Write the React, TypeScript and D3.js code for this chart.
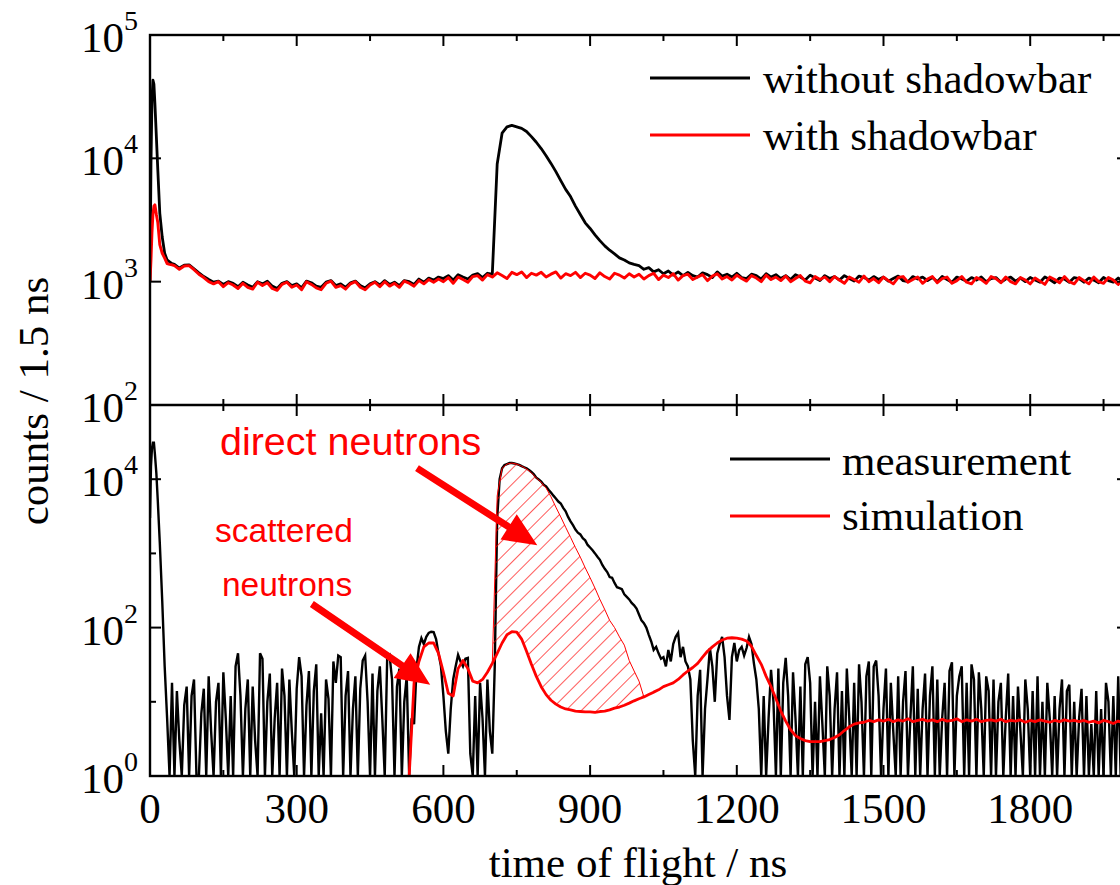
import React from "react";
import * as d3 from "d3";

// ---------- time axis (ns) ----------
const headTimes = [0, 2, 4, 6, 8, 10, 13, 16, 20, 25, 30, 35, 40, 45];
const gridTimes = d3.range(50, 2001, 10);
const tof = headTimes.concat(gridTimes);

const measHeadTimes = [0, 2, 4, 6, 8, 10, 13, 16, 20, 25];
const measTimes = measHeadTimes.concat(d3.range(30, 2001, 5));

// ---------- top panel: counts / 1.5 ns ----------
const withoutShadowbar = [
  1000, 9000, 30000, 43000, 40000, 28000, 15000, 8000, 3600, 2300, 1700, 1500, 1450, 1400,
  1380, 1290, 1360, 1370, 1270, 1180,
  1100, 1040, 990, 1010, 950, 1000, 970, 910, 990,
  940, 900, 1000, 960, 1010, 920, 880, 970, 1000, 930,
  960, 890, 1010, 980, 920, 900, 990, 1020, 930, 960,
  900, 980, 1010, 930, 890, 960, 1000, 940, 1020, 950,
  990, 930, 1020, 1000, 950, 1050, 990, 1070, 1030, 1090,
  1060, 1120, 1030, 1140, 1090, 1050, 1130, 1160, 1080, 1170,
  1150, 9000, 16000, 18000, 18500, 18000, 17500, 16500, 15000, 13500,
  12000, 10500, 9100, 7800, 6600, 5600, 4900, 4100, 3500, 3000,
  2700, 2400, 2150, 1950, 1800, 1680, 1560, 1500, 1420, 1380,
  1350, 1260, 1300, 1200, 1250, 1160, 1220, 1130, 1200, 1120,
  1190, 1120, 1090, 1180, 1140, 1080, 1200, 1110, 1150, 1090,
  1170, 1080, 1060, 1150, 1120, 1050, 1160, 1090, 1140, 1060,
  1120, 1040, 1140, 1090, 1030, 1130, 1070, 1020, 1120, 1060,
  1100, 1030, 1120, 1060, 1010, 1110, 1080, 1030, 1100, 1040,
  1090, 1010, 1060, 1110, 1020, 1000, 1100, 1050, 1090, 1020,
  1080, 1000, 1100, 1040, 990, 1090, 1050, 1010, 1080, 1030,
  1090, 1000, 1060, 1080, 990, 1050, 1090, 1010, 1070, 1000,
  1080, 1030, 990, 1090, 1040, 980, 1070, 1050, 990, 1080,
  1060, 990, 1070, 1030, 980, 1080, 1020, 990, 1070, 1000,
  1050,
];

const withShadowbar = [
  1000, 1500, 2500, 3500, 4100, 4200, 3500, 3000, 2000, 1700, 1550, 1400, 1380, 1370,
  1350, 1260, 1340, 1350, 1250, 1150,
  1080, 1000, 960, 1000, 910, 980, 940, 880, 970,
  900, 870, 990, 930, 980, 880, 850, 950, 990, 900,
  940, 860, 1000, 950, 890, 860, 970, 1010, 900, 930,
  870, 960, 1000, 900, 860, 940, 990, 910, 1000, 920,
  970, 900, 1010, 970, 920, 1020, 960, 1040, 990, 1050,
  1000, 1080, 970, 1090, 1040, 990, 1100, 1120, 1030, 1140,
  1090, 1180, 1120, 1060, 1190, 1140, 1200, 1080, 1170, 1130,
  1190, 1090, 1150, 1200, 1070, 1160, 1120, 1190, 1080, 1170,
  1130, 1060, 1180, 1100, 1050, 1170, 1130, 1070, 1160, 1090,
  1150, 1050, 1120, 1170, 1040, 1130, 1080, 1160, 1030, 1120,
  1150, 1040, 1090, 1140, 1020, 1110, 1160, 1050, 1100, 1030,
  1130, 1060, 1010, 1120, 1070, 1000, 1130, 1040, 1090, 1020,
  1110, 1000, 1060, 1120, 1010, 980, 1100, 1040, 1090, 1000,
  1100, 1030, 970, 1090, 1040, 990, 1110, 1000, 1060, 980,
  1090, 1020, 960, 1080, 1100, 990, 1040, 1090, 970, 1050,
  1100, 980, 1060, 1090, 970, 1020, 1100, 990, 960, 1080,
  1040, 970, 1100, 1060, 980, 1090, 1000, 960, 1080, 1030,
  960, 1070, 1010, 950, 1090, 1040, 980, 1100, 1000, 960,
  1080, 1020, 960, 1090, 1000, 970, 1080, 1030, 950, 1060,
  1000,
];

// ---------- bottom panel ----------
const measurement = [
  3000, 15000, 26000, 31000, 31000, 22000, 12000, 5000, 1400, 230,
  30, 6, 0, 18, 0, 14, 3, 0, 9, 16,
  0, 12, 20, 0, 0, 7, 15, 0, 22, 4,
  0, 10, 18, 0, 25, 6, 0, 12, 0, 30,
  45, 12, 0, 8, 20, 0, 16, 3, 0, 45,
  38, 0, 10, 24, 0, 6, 18, 0, 28, 12,
  0, 20, 4, 0, 15, 40, 22, 0, 9, 26,
  0, 14, 32, 0, 7, 0, 20, 11, 0, 35,
  18, 42, 40, 0, 12, 26, 0, 8, 22, 0,
  15, 36, 42, 10, 0, 24, 0, 14, 30, 6,
  0, 38, 42, 20, 0, 16, 28, 0, 10, 22,
  0, 6, 5, 28, 55, 72, 60, 75, 85, 88,
  87, 70, 45, 30, 12, 4, 2, 8, 20, 30,
  43, 35, 30, 38, 39, 2, 0, 12, 0, 18,
  6, 0, 20, 4, 2, 30, 3000, 10000, 14000, 15500,
  16000, 16500, 16500, 16300, 16000, 15600, 15000, 14500, 14000, 13300,
  12500, 11600, 10500, 9900, 9300, 8400, 8000, 7200, 6600, 6000,
  5500, 5000, 4700, 4100, 3700, 3100, 2700, 2400, 2100, 1900,
  1800, 1600, 1500, 1300, 1200, 1100, 1000, 900, 820, 700,
  620, 560, 480, 470, 400, 350, 340, 330, 280, 260,
  240, 215, 200, 180, 150, 125, 115, 100, 80, 65,
  50, 55, 45, 38, 40, 30, 50, 35, 60, 75,
  85, 40, 55, 35, 30, 20, 3, 0, 12, 27,
  0, 8, 20, 53, 30, 10, 45, 60, 75, 40,
  12, 5.7, 40, 62, 35, 50, 55, 42, 53, 75,
  60, 33, 20, 8, 0, 12, 0, 6, 27, 10,
  0, 28, 0, 18, 39, 12, 0, 25, 6, 0,
  16, 0, 32, 40, 18, 0, 10, 0, 22, 5,
  0, 30, 12, 0, 8, 25, 0, 14, 0, 28,
  6, 0, 18, 0, 32, 10, 0, 22, 35, 0,
  30, 36, 12, 0, 8, 28, 0, 18, 4, 0,
  22, 0, 10, 26, 0, 6, 30, 0, 15, 0,
  8, 24, 0, 12, 30, 0, 20, 0, 6, 18,
  0, 26, 34, 0, 12, 22, 30, 0, 18, 0,
  32, 20, 0, 25, 8, 0, 22, 14, 0, 20,
  0, 10, 18, 0, 6, 24, 0, 12, 0, 16,
  4, 0, 20, 8, 0, 14, 0, 22, 0, 10,
  0, 18, 6, 0, 12, 0, 8, 20, 0, 14,
  17, 0, 10, 0, 6, 15, 0, 12, 0, 5,
  0, 14, 0, 8, 0, 18, 10, 0, 12, 0,
  22, 0, 8, 0, 14,
];

const simTimes = d3.range(530, 2001, 10);
const simulation = [
  0, 18, 35, 55, 62, 62, 45, 25, 13, 12, 28, 36, 28, 19, 18, 20, 25,
  33, 45, 62, 80, 88, 87, 70, 48, 32, 22,
  16, 12.5, 10.5, 9.3, 8.5, 8, 7.8, 7.5, 7.4, 7.3,
  7.3, 7.2, 7.4, 7.5, 7.8, 8.2, 8.5, 9, 9.6, 10.3,
  11, 11.6, 12.5, 13.5, 14.5, 16, 17, 18, 20, 23,
  26, 29, 33, 40, 48, 55, 62, 68, 72, 73,
  72, 70, 66, 56, 42, 32, 22, 16, 11, 7.5,
  5.5, 4.2, 3.5, 3.2, 3.0, 2.9, 2.9, 2.9, 3.0, 3.1,
  3.3, 3.6, 4.1, 4.6, 5.0, 5.2, 5.3, 5.6, 5.4, 5.7,
  5.5, 5.8, 5.4, 5.7, 5.5, 5.9, 5.4, 5.6, 5.8, 5.5,
  5.7, 5.4, 5.8, 5.5, 5.6, 5.9, 5.4, 5.7, 5.5, 5.8,
  5.4, 5.6, 5.7, 5.5, 5.8, 5.4, 5.6, 5.5, 5.7, 5.3,
  5.6, 5.4, 5.7, 5.5, 5.3, 5.6, 5.4, 5.7, 5.5, 5.6,
  5.4, 5.6, 5.3, 5.5, 5.2, 5.6, 5.4, 5.1, 5.5, 5.2,
  5.3,
];

const directTimes = d3.range(700, 1011, 10);
const directTotal = [
  33, 6000, 14000, 16000, 16500, 16000, 15000, 13800, 12200, 10400,
  9100, 7600, 5800, 4200, 3100, 2250, 1650, 1200, 890, 640,
  470, 340, 240, 175, 125, 100, 75, 58, 36, 26,
  19, 11.6,
];

// ---------- axes ----------
const xTicks = d3.range(0, 2001, 150);
const xTickLabels = [0, 300, 600, 900, 1200, 1500, 1800];
const topMajor = [1e3, 1e4];
const topLabels = [2, 3, 4, 5];
const botMajor = [1e2, 1e4];
const botMinor = [1e1, 1e3];
const botLabels = [0, 2, 4];

// annotation anchors in data coords [ns, counts]
const arrowDirect = [[546, 14100], [792, 1290]];
const arrowScattered = [[331, 208], [573, 17]];

const RED = "#f00";
const SERIF = "'Liberation Serif', 'Times New Roman', serif";
const SANS = "'Liberation Sans', Arial, sans-serif";

function arrowPoints(p1: number[], p2: number[], w: number, L: number, Hw: number) {
  const dx = p2[0] - p1[0], dy = p2[1] - p1[1];
  const len = Math.hypot(dx, dy);
  const ux = dx / len, uy = dy / len;
  const nx = -uy, ny = ux;
  const bx = p2[0] - ux * L, by = p2[1] - uy * L;
  const pts = [
    [p1[0] + nx * w / 2, p1[1] + ny * w / 2],
    [bx + nx * w / 2, by + ny * w / 2],
    [bx + nx * Hw / 2, by + ny * Hw / 2],
    [p2[0], p2[1]],
    [bx - nx * Hw / 2, by - ny * Hw / 2],
    [bx - nx * w / 2, by - ny * w / 2],
    [p1[0] - nx * w / 2, p1[1] - ny * w / 2],
  ];
  return pts.map((p) => p.join(",")).join(" ");
}

export default function App() {
  const L = 150, R = 1128, T = 35, M = 405, B = 776;
  const x = d3.scaleLinear().domain([0, 2000]).range([L, R]);
  const yTop = d3.scaleLog().domain([100, 1e5]).range([M, T]).clamp(true);
  const yBot = d3.scaleLog().domain([1, 1e5]).range([B, M]).clamp(true);

  const topLine = d3
    .line<[number, number]>()
    .x((d) => x(d[0]))
    .y((d) => yTop(d[1]));
  const botLine = d3
    .line<[number, number]>()
    .x((d) => x(d[0]))
    .y((d) => yBot(Math.max(d[1], 1)));

  const pairs = (ts: number[], vs: number[]) => ts.map((t, i) => [t, vs[i]] as [number, number]);

  const simAt = (t: number) => simulation[Math.round((t - 530) / 10)];
  const hatchArea = d3
    .area<number>()
    .x((t) => x(t))
    .y0((t) => yBot(simAt(t)))
    .y1((_, i) => yBot(directTotal[i]));

  const fs = 43;
  const expFs = 28;

  const tickLen = (v: number) => (v % 300 === 0 ? 11 : 6);

  const toPx = (p: number[]) => [x(p[0]), yBot(p[1])];

  return (
    <svg
      width={1120}
      height={885}
      style={{ position: "absolute", left: 0, top: 0, background: "#fff" }}
      fontFamily={SERIF}
    >
      <defs>
        <clipPath id="clipTop">
          <rect x={L} y={T} width={R - L} height={M - T} />
        </clipPath>
        <clipPath id="clipBot">
          <rect x={L} y={M} width={R - L} height={B - M} />
        </clipPath>
        <pattern
          id="hatch"
          patternUnits="userSpaceOnUse"
          width={11}
          height={11}
          patternTransform="rotate(45)"
        >
          <line x1={0} y1={0} x2={0} y2={11} stroke={RED} strokeWidth={1.3} />
        </pattern>
      </defs>
      <rect x={0} y={0} width={1120} height={885} fill="#fff" />

      {/* top panel data */}
      <g clipPath="url(#clipTop)" fill="none" strokeLinejoin="round">
        <path d={topLine(pairs(tof, withoutShadowbar)) || ""} stroke="#000" strokeWidth={2.8} />
        <path d={topLine(pairs(tof, withShadowbar)) || ""} stroke={RED} strokeWidth={2.9} />
      </g>

      {/* bottom panel data */}
      <g clipPath="url(#clipBot)" fill="none" strokeLinejoin="miter">
        <path d={botLine(pairs(measTimes, measurement)) || ""} stroke="#000" strokeWidth={2.4} />
        <path d={hatchArea(directTimes) || ""} fill="url(#hatch)" stroke="none" />
        <path d={botLine(pairs(directTimes, directTotal)) || ""} stroke={RED} strokeWidth={1} />
        <path
          d={botLine(pairs(simTimes, simulation)) || ""}
          stroke={RED}
          strokeWidth={2.8}
          strokeLinejoin="round"
        />
      </g>

      {/* frames */}
      <g stroke="#000" strokeWidth={2.4} fill="none">
        <rect x={L} y={T} width={R - L} height={B - T} />
        <line x1={L} x2={R} y1={M} y2={M} />
      </g>

      {/* ticks */}
      <g stroke="#000" strokeWidth={2}>
        {xTicks.map((v) => (
          <g key={v}>
            <line x1={x(v)} x2={x(v)} y1={T} y2={T + tickLen(v)} />
            <line x1={x(v)} x2={x(v)} y1={M - tickLen(v)} y2={M + tickLen(v)} />
            <line x1={x(v)} x2={x(v)} y1={B} y2={B - tickLen(v)} />
          </g>
        ))}
        {topMajor.map((v) => (
          <g key={"t" + v}>
            <line x1={L} x2={L + 11} y1={yTop(v)} y2={yTop(v)} />
            <line x1={R} x2={R - 11} y1={yTop(v)} y2={yTop(v)} />
          </g>
        ))}
        {botMajor.map((v) => (
          <g key={"b" + v}>
            <line x1={L} x2={L + 11} y1={yBot(v)} y2={yBot(v)} />
            <line x1={R} x2={R - 11} y1={yBot(v)} y2={yBot(v)} />
          </g>
        ))}
        {botMinor.map((v) => (
          <g key={"m" + v}>
            <line x1={L} x2={L + 6} y1={yBot(v)} y2={yBot(v)} />
            <line x1={R} x2={R - 6} y1={yBot(v)} y2={yBot(v)} />
          </g>
        ))}
      </g>

      {/* tick labels */}
      <g fontSize={fs} fill="#000">
        {xTickLabels.map((v) => (
          <text key={v} x={x(v)} y={823} textAnchor="middle">
            {v}
          </text>
        ))}
        {topLabels.map((e) => (
          <text key={"tl" + e} x={138} y={yTop(Math.pow(10, e)) + 17} textAnchor="end">
            10
            <tspan dy={-22} fontSize={expFs}>
              {e}
            </tspan>
          </text>
        ))}
        {botLabels.map((e) => (
          <text key={"bl" + e} x={138} y={yBot(Math.pow(10, e)) + 17} textAnchor="end">
            10
            <tspan dy={-22} fontSize={expFs}>
              {e}
            </tspan>
          </text>
        ))}
      </g>

      {/* axis titles */}
      <text x={638} y={877} textAnchor="middle" fontSize={fs}>
        time of flight / ns
      </text>
      <text transform="translate(48,401) rotate(-90)" textAnchor="middle" fontSize={fs}>
        counts / 1.5 ns
      </text>

      {/* legends */}
      <g fontSize={fs}>
        <line x1={650} x2={750} y1={78} y2={78} stroke="#000" strokeWidth={3} />
        <text x={763} y={93}>without shadowbar</text>
        <line x1={650} x2={750} y1={135} y2={135} stroke={RED} strokeWidth={3} />
        <text x={763} y={150}>with shadowbar</text>

        <line x1={730} x2={830} y1={459} y2={459} stroke="#000" strokeWidth={3} />
        <text x={842} y={475}>measurement</text>
        <line x1={730} x2={830} y1={516} y2={516} stroke={RED} strokeWidth={3} />
        <text x={842} y={530}>simulation</text>
      </g>

      {/* annotations */}
      <g fontFamily={SANS} fill={RED}>
        <text x={x(143)} y={yBot(21000)} fontSize={39.5}>
          direct neutrons
        </text>
        <text x={x(133)} y={yBot(1420)} fontSize={33.5}>
          scattered
        </text>
        <text x={x(147)} y={yBot(267)} fontSize={33.5}>
          neutrons
        </text>
      </g>
      <polygon
        points={arrowPoints(toPx(arrowDirect[0]), toPx(arrowDirect[1]), 7, 34, 30)}
        fill={RED}
      />
      <polygon
        points={arrowPoints(toPx(arrowScattered[0]), toPx(arrowScattered[1]), 7, 34, 30)}
        fill={RED}
      />
    </svg>
  );
}
